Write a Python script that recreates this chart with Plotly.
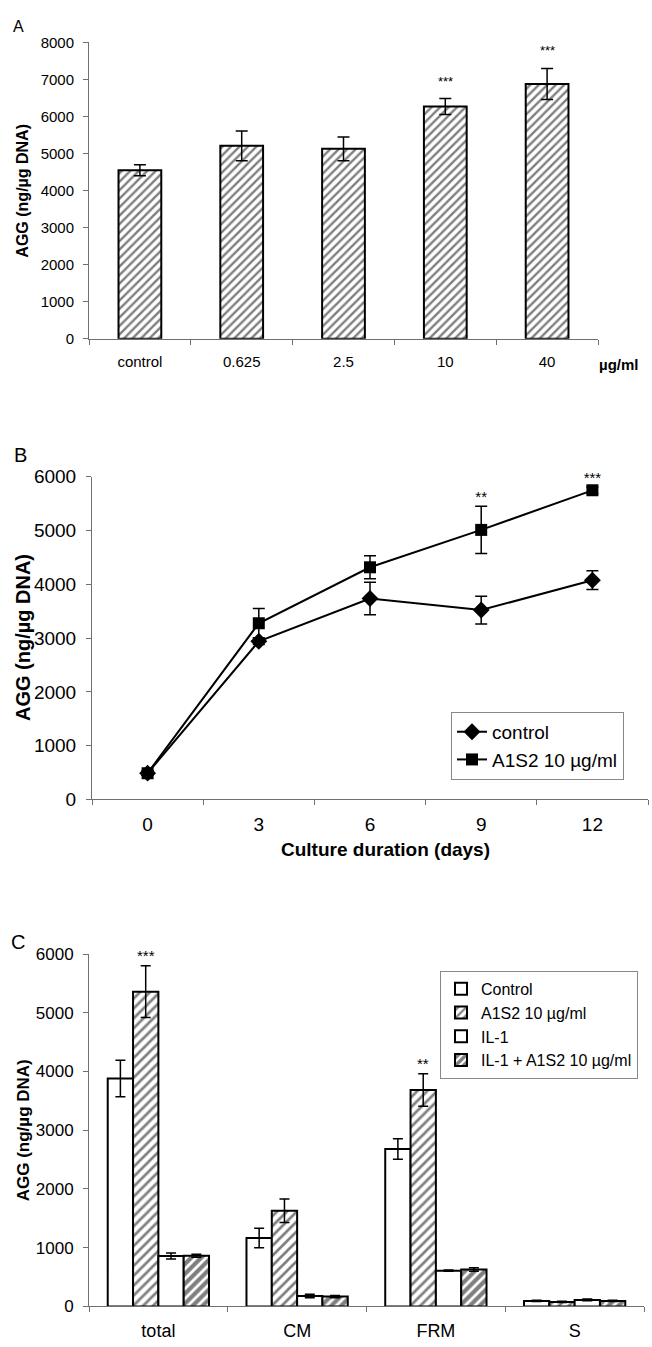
import plotly.graph_objects as go

W, H = 652, 1347
FONT = "Liberation Sans, Arial, sans-serif"

# ---------------- data ----------------
# Panel A
a_cats = ["control", "0.625", "2.5", "10", "40"]
a_vals = [4550, 5210, 5130, 6270, 6880]
a_err = [150, 400, 320, 215, 420]
a_sig = ["", "", "", "***", "***"]

# Panel B
b_days = ["0", "3", "6", "9", "12"]
b_ctrl = [490, 2940, 3735, 3520, 4075]
b_ctrl_err = [40, 60, 300, 257, 175]
b_a1s2 = [490, 3275, 4315, 5010, 5745]
b_a1s2_err = [40, 275, 215, 440, 60]
b_sig = ["", "", "", "**", "***"]

# Panel C
c_cats = ["total", "CM", "FRM", "S"]
c_names = ["Control", "A1S2 10 µg/ml", "IL-1", "IL-1 + A1S2 10 µg/ml"]
c_control = [3880, 1165, 2680, 95]
c_control_err = [310, 165, 175, 12]
c_a1s2 = [5360, 1630, 3685, 78]
c_a1s2_err = [440, 200, 275, 12]
c_il1 = [860, 180, 610, 112]
c_il1_err = [50, 30, 12, 15]
c_il1a = [865, 168, 628, 95]
c_il1a_err = [25, 20, 30, 10]
c_sig_a1s2 = ["***", "", "**", ""]


def xd(l, r):
    return [l / W, r / W]


def yd(bottom, top):
    return [1 - bottom / H, 1 - top / H]


fig = go.Figure()

# ---------------- Panel A ----------------
fig.add_trace(go.Bar(
    x=a_cats, y=a_vals, width=0.42, xaxis="x", yaxis="y", showlegend=False,
    marker=dict(color="white", line=dict(color="black", width=2),
                pattern=dict(shape="/", fgcolor="black", bgcolor="white", size=6, solidity=0.4)),
    error_y=dict(type="data", array=a_err, color="black", thickness=1.5, width=6),
))

# ---------------- Panel B ----------------
fig.add_trace(go.Scatter(
    x=b_days, y=b_ctrl, name="control", mode="lines+markers", xaxis="x2", yaxis="y2",
    legend="legend",
    line=dict(color="black", width=2),
    marker=dict(symbol="diamond", size=13, color="black"),
    error_y=dict(type="data", array=b_ctrl_err, color="black", thickness=1.5, width=6),
))
fig.add_trace(go.Scatter(
    x=b_days, y=b_a1s2, name="A1S2 10 µg/ml", mode="lines+markers", xaxis="x2", yaxis="y2",
    legend="legend",
    line=dict(color="black", width=2),
    marker=dict(symbol="square", size=12, color="black"),
    error_y=dict(type="data", array=b_a1s2_err, color="black", thickness=1.5, width=6),
))
# significance stars for panel B (text trace on the category axis)
fig.add_trace(go.Scatter(
    x=b_days, y=[v + e for v, e in zip(b_a1s2, b_a1s2_err)], text=b_sig, mode="text",
    textposition="top center", textfont=dict(family=FONT, size=15, color="black"),
    xaxis="x2", yaxis="y2", showlegend=False, hoverinfo="skip", cliponaxis=False,
))

# ---------------- Panel C ----------------
c_series = [(c_control, c_control_err), (c_a1s2, c_a1s2_err), (c_il1, c_il1_err), (c_il1a, c_il1a_err)]
c_patterns = [None,
              dict(shape="/", fgcolor="black", bgcolor="white", size=7, solidity=0.38),
              None,
              dict(shape="/", fgcolor="black", bgcolor="white", size=7, solidity=0.6)]
group_w = 0.73
bw = group_w / 4
for i, ((vals, errs), name, pat) in enumerate(zip(c_series, c_names, c_patterns)):
    marker = dict(color="white", line=dict(color="black", width=2))
    if pat:
        marker["pattern"] = pat
    fig.add_trace(go.Bar(
        x=c_cats, y=vals, name=name, width=bw, offset=-group_w / 2 + i * bw,
        xaxis="x3", yaxis="y3", legend="legend2", marker=marker,
        error_y=dict(type="data", array=errs, color="black", thickness=1.5, width=5),
    ))

# ---------------- axes ----------------
common = dict(showline=True, linecolor="#707070", linewidth=1, ticks="outside", ticklen=5,
              tickcolor="#707070", showgrid=False, zeroline=False)

fig.update_layout(
    width=W, height=H, margin=dict(l=0, r=0, t=0, b=0),
    paper_bgcolor="white", plot_bgcolor="white", barmode="group",
    font=dict(family=FONT, color="black"),
    xaxis=dict(**common, domain=xd(89, 598), anchor="y", type="category", tickson="boundaries",
               range=[-0.5, 4.5], ticklabelstandoff=9,
               tickfont=dict(family=FONT, color="black", size=15)),
    yaxis=dict(**common, domain=yd(334, 33), anchor="x", range=[0, 8000], dtick=1000,
               ticklabelstandoff=6, tickfont=dict(family=FONT, color="black", size=15)),
    xaxis2=dict(**common, domain=xd(92, 648), anchor="y2", type="category", tickson="boundaries",
                range=[-0.5, 4.5], ticklabelstandoff=8,
                tickfont=dict(family=FONT, color="black", size=19)),
    yaxis2=dict(**common, domain=yd(802, 474), anchor="x2", range=[0, 6000], dtick=1000,
                ticklabelstandoff=6, tickfont=dict(family=FONT, color="black", size=19)),
    xaxis3=dict(**common, domain=xd(89, 644), anchor="y3", type="category", tickson="boundaries",
                range=[-0.5, 3.5], ticklabelstandoff=8,
                tickfont=dict(family=FONT, color="black", size=18)),
    yaxis3=dict(**common, domain=yd(1317, 959), anchor="x3", range=[0, 6000], dtick=1000,
                ticklabelstandoff=6, tickfont=dict(family=FONT, color="black", size=17)),
    legend=dict(x=451 / W, y=1 - 713 / H, xanchor="left", yanchor="top",
                bordercolor="#888", borderwidth=1, bgcolor="white",
                font=dict(family=FONT, size=19, color="black"), tracegroupgap=0),
    legend2=dict(x=440 / W, y=1 - 976 / H, xanchor="left", yanchor="top",
                 bordercolor="#888", borderwidth=1, bgcolor="white",
                 font=dict(family=FONT, size=16, color="black"), tracegroupgap=0),
)

ann = []
# panel letters
ann.append(dict(text="A", x=18 / W, y=1 - 17 / H, xref="paper", yref="paper", showarrow=False,
                font=dict(size=16), xanchor="center", yanchor="middle"))
ann.append(dict(text="B", x=20 / W, y=1 - 452 / H, xref="paper", yref="paper", showarrow=False,
                font=dict(size=20), xanchor="center", yanchor="middle"))
ann.append(dict(text="C", x=18 / W, y=1 - 947 / H, xref="paper", yref="paper", showarrow=False,
                font=dict(size=20), xanchor="center", yanchor="middle"))
# y titles
for yc, sz in [((33 + 334) / 2, 16), ((474 + 802) / 2, 20), ((959 + 1317) / 2, 17)]:
    ann.append(dict(text="<b>AGG (ng/µg DNA)</b>", x=23 / W, y=1 - yc / H, xref="paper", yref="paper",
                    showarrow=False, textangle=-90, font=dict(size=sz), xanchor="center", yanchor="middle"))
# units label panel A
ann.append(dict(text="<b>µg/ml</b>", x=618 / W, y=1 - 360 / H, xref="paper", yref="paper",
                showarrow=False, font=dict(size=15), xanchor="center", yanchor="middle"))
# panel B x title
ann.append(dict(text="<b>Culture duration (days)</b>", x=385 / W, y=1 - 853 / H, xref="paper", yref="paper",
                showarrow=False, font=dict(size=19), xanchor="center", yanchor="middle"))
# significance stars
for i, s in enumerate(a_sig):
    if s:
        ann.append(dict(text=s, x=i, y=a_vals[i] + a_err[i], xref="x", yref="y", showarrow=False,
                        yanchor="bottom", yshift=8, font=dict(size=13)))
for i, s in enumerate(c_sig_a1s2):
    if s:
        ann.append(dict(text=s, x=i - group_w / 2 + 1.5 * bw, y=c_a1s2[i] + c_a1s2_err[i], xref="x3", yref="y3",
                        showarrow=False, yanchor="bottom", font=dict(size=15)))
fig.update_layout(annotations=ann)

fig.write_html("out.html")
